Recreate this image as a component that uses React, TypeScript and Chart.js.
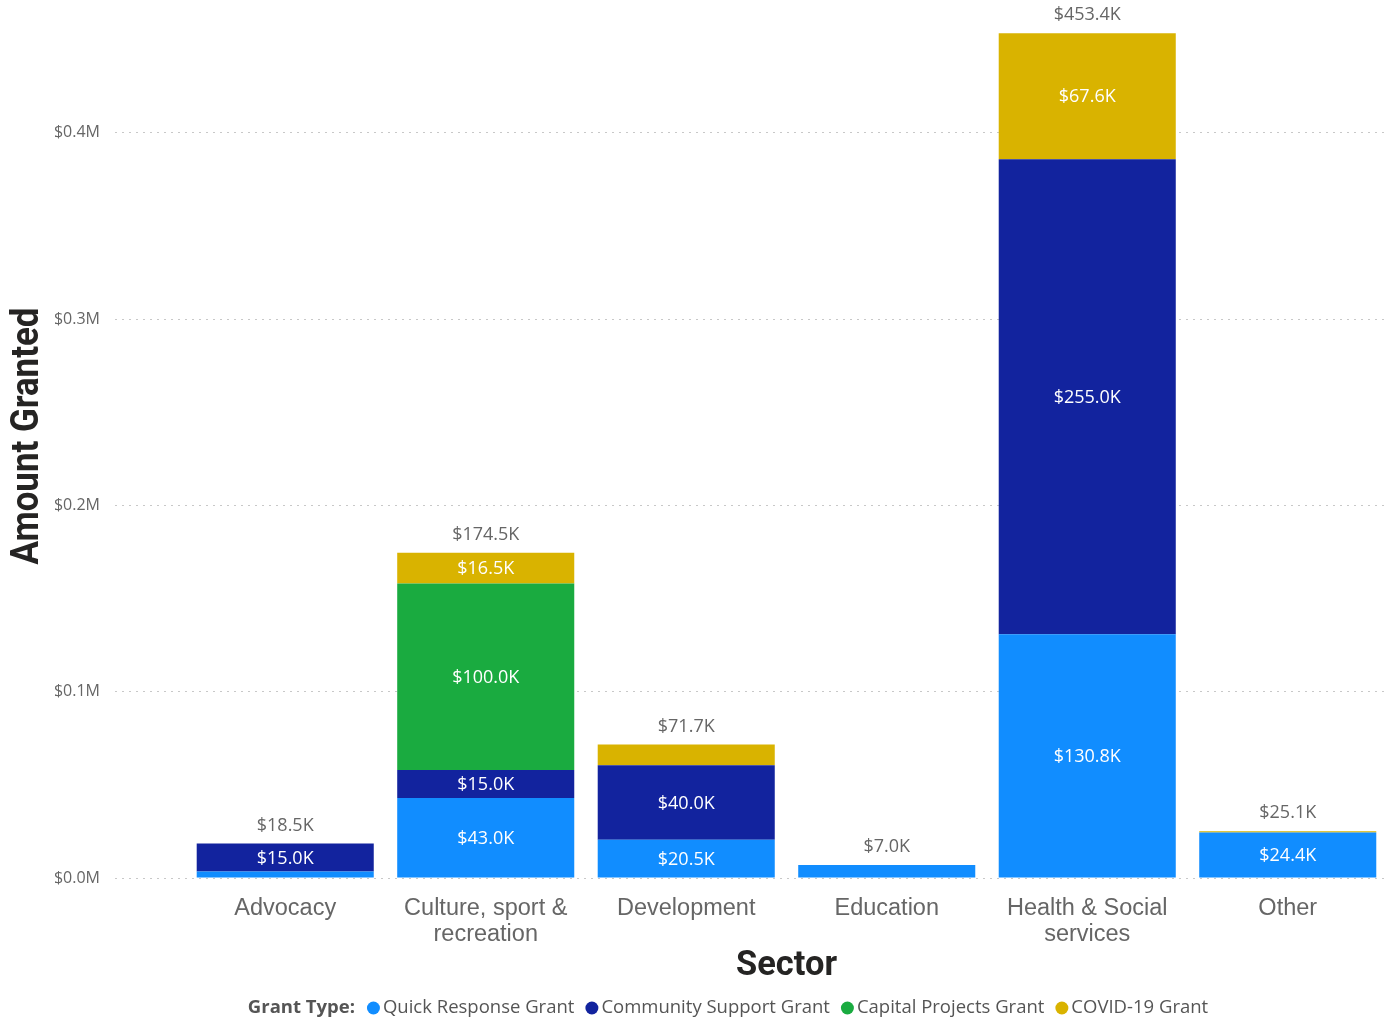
import React, { useEffect, useRef } from "react";
import { Chart, registerables } from "chart.js";

Chart.register(...registerables);

const categories: string[][] = [
  ["Advocacy"],
  ["Culture, sport &", "recreation"],
  ["Development"],
  ["Education"],
  ["Health & Social", "services"],
  ["Other"],
];
// values in thousands of dollars
const quickResponse: (number | null)[] = [3.5, 43.0, 20.5, 7.0, 130.8, 24.4];
const communitySupport: (number | null)[] = [15.0, 15.0, 40.0, null, 255.0, null];
const capitalProjects: (number | null)[] = [null, 100.0, null, null, null, null];
const covid19: (number | null)[] = [null, 16.5, 11.2, null, 67.6, 0.7];

const seriesNames = ["Quick Response Grant", "Community Support Grant", "Capital Projects Grant", "COVID-19 Grant"];
const seriesValues = [quickResponse, communitySupport, capitalProjects, covid19];
const seriesColors = ["#118DFF", "#12239E", "#1AAB40", "#D9B300"];
const yTicks = [0, 100, 200, 300, 400];

const LABEL_FONT = "'Open Sans', 'Noto Sans', sans-serif";
const TITLE_FONT = "Roboto, 'DejaVu Sans', sans-serif";

const fmtK = (v: number) => `$${v.toFixed(1)}K`;

function drawFitted(ctx: CanvasRenderingContext2D, text: string, targetW: number) {
  const w = ctx.measureText(text).width;
  const s = targetW / w;
  ctx.save();
  ctx.scale(s, 1);
  ctx.fillText(text, 0, 0);
  ctx.restore();
}

const overlayPlugin = {
  id: "overlay",
  afterDatasetsDraw(chart: any) {
    const { ctx } = chart;
    const xs = chart.scales.x;
    const ys = chart.scales.y;
    ctx.save();
    ctx.textAlign = "center";
    ctx.textBaseline = "middle";
    ctx.font = `18px ${LABEL_FONT}`;
    ctx.fillStyle = "#ffffff";
    chart.data.datasets.forEach((ds: any, di: number) => {
      const meta = chart.getDatasetMeta(di);
      meta.data.forEach((bar: any, j: number) => {
        const p = bar.getProps(["x", "y", "base"], true);
        const h = Math.abs(p.base - p.y);
        if (h < 25) return;
        ctx.fillText(fmtK(ds.data[j].y), p.x, (p.y + p.base) / 2 + 1);
      });
    });
    ctx.fillStyle = "#666666";
    categories.forEach((_, i) => {
      let total = 0;
      seriesValues.forEach((arr) => (total += arr[i] ?? 0));
      const x = xs.getPixelForValue(i);
      const y = ys.getPixelForValue(total);
      ctx.fillText(fmtK(total), x, y - 18);
    });
    ctx.restore();
  },
  afterDraw(chart: any) {
    const { ctx } = chart;
    const xs = chart.scales.x;
    ctx.save();
    ctx.fillStyle = "#252423";
    ctx.font = `bold 38px ${TITLE_FONT}`;
    ctx.textAlign = "center";
    ctx.textBaseline = "middle";
    ctx.translate(28, 436);
    ctx.rotate(-Math.PI / 2);
    drawFitted(ctx, "Amount Granted", 257);
    ctx.restore();

    ctx.save();
    const left = xs.getPixelForValue(-0.5);
    const right = xs.getPixelForValue(categories.length - 0.5);
    ctx.fillStyle = "#252423";
    ctx.font = `bold 35px ${TITLE_FONT}`;
    ctx.textAlign = "center";
    ctx.textBaseline = "middle";
    ctx.translate((left + right) / 2, 966);
    drawFitted(ctx, "Sector", 101);
    ctx.restore();

    ctx.save();
    const ly = 1008;
    ctx.textBaseline = "middle";
    ctx.textAlign = "left";
    const titleFont = `bold 18.5px ${LABEL_FONT}`;
    const itemFont = `18.5px ${LABEL_FONT}`;
    ctx.font = titleFont;
    const titleW = ctx.measureText("Grant Type:").width;
    ctx.font = itemFont;
    const r = 6.5;
    const gapTitle = 12;
    const gapDot = 3;
    const gapItem = 11;
    const itemWs = seriesNames.map((n) => ctx.measureText(n).width);
    let total = titleW + gapTitle;
    itemWs.forEach((w, i) => (total += 2 * r + gapDot + w + (i < itemWs.length - 1 ? gapItem : 0)));
    let x = 728 - total / 2;
    ctx.font = titleFont;
    ctx.fillStyle = "#555555";
    ctx.fillText("Grant Type:", x, ly);
    x += titleW + gapTitle;
    ctx.font = itemFont;
    seriesNames.forEach((n, i) => {
      ctx.beginPath();
      ctx.fillStyle = seriesColors[i];
      ctx.arc(x + r, ly, r, 0, Math.PI * 2);
      ctx.fill();
      x += 2 * r + gapDot;
      ctx.fillStyle = "#555555";
      ctx.fillText(n, x, ly);
      x += itemWs[i] + gapItem;
    });
    ctx.restore();
  },
};

export default function App() {
  const canvasRef = useRef<HTMLCanvasElement | null>(null);

  useEffect(() => {
    document.body.style.margin = "0";
    const canvas = canvasRef.current;
    if (!canvas) return;
    const datasets = seriesValues.map((arr, si) => ({
      label: seriesNames[si],
      data: arr
        .map((v, i) => ({ x: i, y: v }))
        .filter((d) => d.y != null) as { x: number; y: number }[],
      backgroundColor: seriesColors[si],
      borderWidth: 0,
      categoryPercentage: 1,
      barPercentage: 0.883,
    }));

    const chart = new Chart(canvas, {
      type: "bar",
      data: { datasets },
      options: {
        animation: false,
        responsive: true,
        maintainAspectRatio: false,
        layout: { padding: { top: 10, right: 1, left: 0, bottom: 0 } },
        plugins: {
          legend: { display: false },
          tooltip: { enabled: false },
          title: { display: false },
        },
        scales: {
          x: {
            type: "linear",
            stacked: true,
            offset: false,
            min: -0.849,
            max: 5.5,
            grid: { display: false, drawTicks: false },
            border: { display: false },
            afterBuildTicks: (axis: any) => {
              axis.ticks = categories.map((_, i) => ({ value: i }));
            },
            afterFit: (scale: any) => {
              scale.height = 145;
            },
            ticks: {
              autoSkip: false,
              maxRotation: 0,
              minRotation: 0,
              padding: 18,
              color: "#666666",
              font: { family: "'Liberation Sans', Arial, sans-serif", size: 23.5, lineHeight: 1.08 },
              callback: (v: any) => categories[Math.round(Number(v))] ?? "",
            },
          },
          y: {
            stacked: true,
            min: 0,
            max: 458,
            border: { display: false, dash: [2, 5] },
            grid: {
              color: "#c8c8c8",
              lineWidth: 1,
              drawTicks: false,
            },
            afterBuildTicks: (axis: any) => {
              axis.ticks = yTicks.map((v) => ({ value: v }));
            },
            afterFit: (scale: any) => {
              scale.width = 115;
            },
            ticks: {
              padding: 15,
              color: "#666666",
              font: { family: LABEL_FONT, size: 16 },
              callback: (v: any) => `$${(Number(v) / 1000).toFixed(1)}M`,
            },
          },
        },
      } as any,
      plugins: [overlayPlugin],
    });

    return () => chart.destroy();
  }, []);

  return (
    <div style={{ width: 1389, height: 1023, position: "relative" }}>
      <canvas ref={canvasRef} />
    </div>
  );
}
